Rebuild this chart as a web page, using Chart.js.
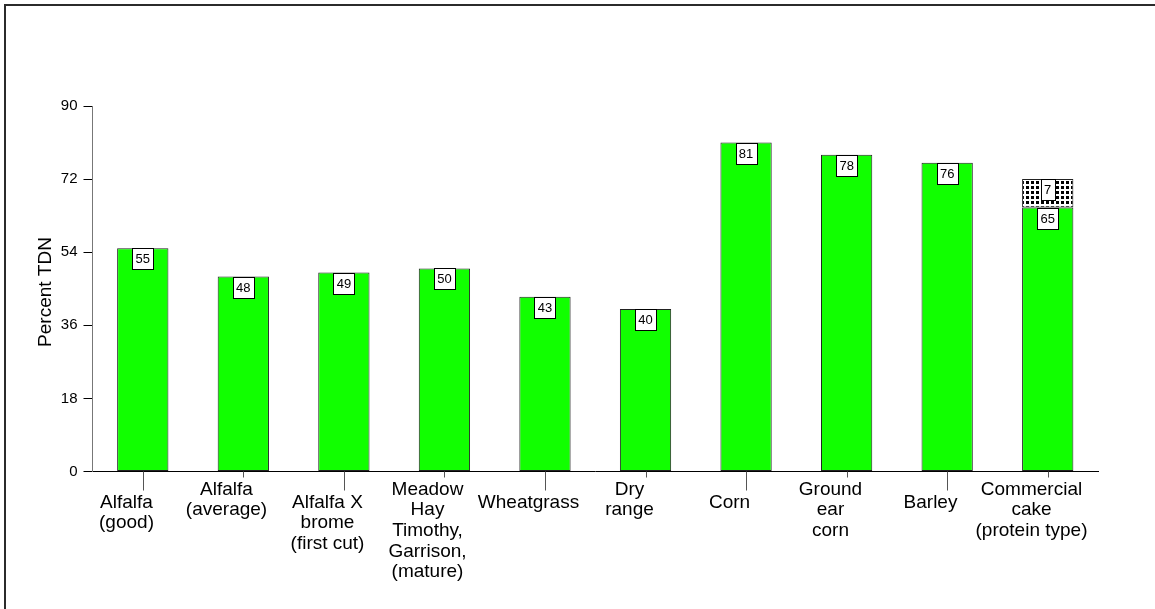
<!DOCTYPE html>
<html>
<head>
<meta charset="utf-8">
<script src="https://cdn.jsdelivr.net/npm/chart.js@4"></script>
<style>
  html, body { margin: 0; padding: 0; background: #fff; }
  canvas { display: block; }
</style>
</head>
<body>
<canvas id="tdnChart" width="1155" height="609"></canvas>
<script>
// feed categories, multi-line as in the original
const categories = [
  ["Alfalfa", "(good)"],
  ["Alfalfa", "(average)"],
  ["Alfalfa X", "brome", "(first cut)"],
  ["Meadow", "Hay", "Timothy,", "Garrison,", "(mature)"],
  ["Wheatgrass"],
  ["Dry", "range"],
  ["Corn"],
  ["Ground", "ear", "corn"],
  ["Barley"],
  ["Commercial", "cake", "(protein type)"]
];
const tdnValues = [55, 48, 49, 50, 43, 40, 81, 78, 76, 65];
const extraValues = [null, null, null, null, null, null, null, null, null, 7];
const yTicks = [0, 18, 36, 54, 72, 90];
const yTitle = "Percent TDN";

const FONT = "'Liberation Sans', Arial, Helvetica, sans-serif";

document.addEventListener("DOMContentLoaded", () => {
  const ctx = document.getElementById("tdnChart").getContext("2d");

  // small checkered pattern for the stacked part
  const pc = document.createElement("canvas");
  pc.width = 5;
  pc.height = 5;
  const px = pc.getContext("2d");
  px.fillStyle = "#fff";
  px.fillRect(0, 0, 5, 5);
  px.fillStyle = "#000";
  px.fillRect(1, 1, 3, 3);
  const checker = ctx.createPattern(pc, "repeat");

  // frame, y title, staggered category labels
  const decorations = {
    id: "decorations",
    afterDraw(chart) {
      const c = chart.ctx;
      const xs = chart.scales.x;
      const bottom = chart.chartArea.bottom;
      c.save();
      c.fillStyle = "#2b2b2b";
      c.fillRect(4, 4, chart.width, 2);
      c.fillRect(4, 4, 2, chart.height);

      c.fillStyle = "#000";
      c.font = "19px " + FONT;
      c.textAlign = "center";
      c.textBaseline = "middle";
      c.translate(46, 292);
      c.rotate(-Math.PI / 2);
      c.fillText(yTitle, 0, 0);
      c.restore();

      c.save();
      c.font = "19px " + FONT;
      c.textAlign = "center";
      c.textBaseline = "alphabetic";
      categories.forEach((lines, i) => {
        const x = Math.round(xs.getPixelForValue(i)) + 0.5;
        const low = i % 2 === 0;
        c.strokeStyle = "#555";
        c.lineWidth = 1;
        c.beginPath();
        c.moveTo(x, bottom);
        c.lineTo(x, bottom + (low ? 19 : 6));
        c.stroke();
        c.fillStyle = "#000";
        const base = bottom + (low ? 36 : 23);
        lines.forEach((t, k) => c.fillText(t, x - 17, base + k * 20.7));
      });
      c.restore();
    },
    afterDatasetsDraw(chart) {
      const c = chart.ctx;
      c.save();
      c.font = "13px " + FONT;
      c.textAlign = "center";
      c.textBaseline = "middle";
      chart.data.datasets.forEach((ds, d) => {
        const meta = chart.getDatasetMeta(d);
        meta.data.forEach((el, i) => {
          const v = ds.data[i];
          if (v === null || v === undefined) return;
          const txt = String(v);
          const w = Math.round(c.measureText(txt).width + 7);
          const h = 21;
          const left = Math.round(el.x - w / 2) + 0.5;
          const top = Math.round(el.y) + 0.5;
          c.fillStyle = "#fff";
          c.fillRect(left, top, w, h);
          c.strokeStyle = "#000";
          c.lineWidth = 1;
          c.strokeRect(left, top, w, h);
          c.fillStyle = "#000";
          c.fillText(txt, el.x, top + h / 2 + 0.5);
        });
      });
      c.restore();
    }
  };

  new Chart(ctx, {
    type: "bar",
    data: {
      labels: categories,
      datasets: [
        {
          label: "TDN",
          data: tdnValues,
          backgroundColor: "#11ff00",
          borderColor: "#222",
          borderWidth: 1,
          borderSkipped: false,
          barPercentage: 0.51,
          categoryPercentage: 1
        },
        {
          label: "Extra",
          data: extraValues,
          backgroundColor: checker,
          borderColor: "#222",
          borderWidth: 1,
          borderSkipped: false,
          barPercentage: 0.51,
          categoryPercentage: 1
        }
      ]
    },
    options: {
      responsive: false,
      animation: false,
      layout: {
        padding: { left: 0, top: 106, right: 57, bottom: 137.5 }
      },
      scales: {
        x: {
          stacked: true,
          grid: { display: false },
          ticks: { display: false },
          border: { display: true, color: "#000", width: 1 },
          afterFit: (s) => { s.height = 0; }
        },
        y: {
          stacked: true,
          min: 0,
          max: 90,
          afterBuildTicks: (s) => { s.ticks = yTicks.map(v => ({ value: v })); },
          ticks: {
            color: "#000",
            padding: 6,
            font: { family: FONT, size: 15 }
          },
          grid: {
            drawOnChartArea: false,
            drawTicks: true,
            tickLength: 9,
            tickColor: "#000"
          },
          border: { display: true, color: "#777", width: 1 },
          afterFit: (s) => { s.width = 92.5; }
        }
      },
      plugins: {
        legend: { display: false },
        tooltip: { enabled: false }
      }
    },
    plugins: [decorations]
  });
});
</script>
</body>
</html>
